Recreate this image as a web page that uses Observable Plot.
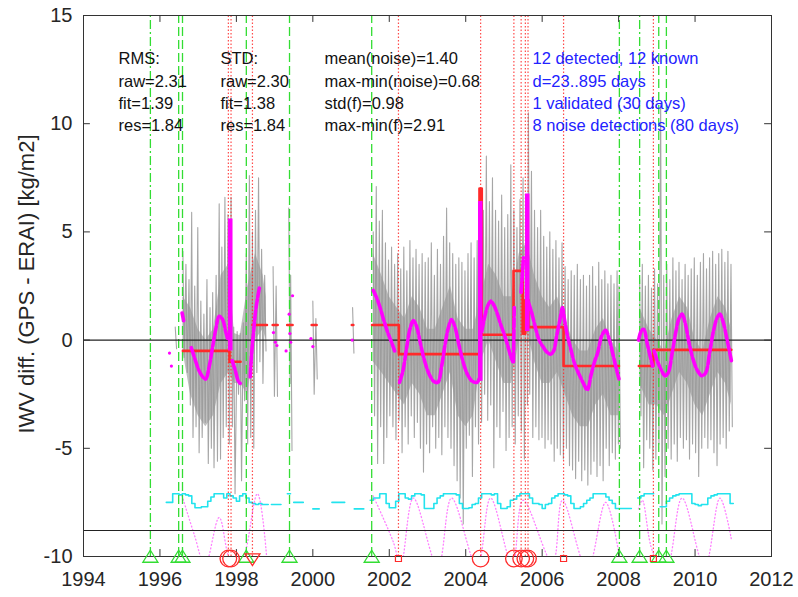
<!DOCTYPE html>
<html><head><meta charset="utf-8">
<script src="https://cdn.jsdelivr.net/npm/d3@7"></script>
<script src="https://cdn.jsdelivr.net/npm/@observablehq/plot@0.6"></script>
<style>body{margin:0;background:#fff} #chart{width:798px;height:597px}</style>
</head><body><div id="chart"></div>
<script>
// ---------- data ----------
const xTicks = [1994,1996,1998,2000,2002,2004,2006,2008,2010,2012];
const yTicks = [-10,-5,0,5,10,15];

// gray raw series: envelope per ~month (null = data gap)
const grayT = [1996.40,null,
 1996.60,1996.68,1996.76,1996.83,1996.91,1996.99,1997.07,1997.15,1997.23,1997.31,1997.38,1997.47,1997.55,1997.62,1997.70,1997.78,1997.86,1997.93,1998.02,1998.10,1998.18,1998.26,1998.34,1998.42,1998.50,1998.58,1998.66,1998.74,null,
 1998.96,1999.04,null,1999.37,1999.42,null,2000.00,2000.08,null,2001.04,null,
 2001.58,2001.66,2001.74,2001.82,2001.90,2001.98,2002.06,2002.14,2002.22,2002.30,2002.38,2002.46,2002.54,2002.62,2002.70,2002.78,2002.86,2002.94,
 2003.02,2003.10,2003.18,2003.26,2003.34,2003.42,2003.50,2003.58,2003.66,2003.74,2003.82,2003.90,2003.98,
 2004.06,2004.14,2004.22,2004.30,2004.38,2004.46,2004.54,2004.62,2004.70,2004.78,2004.86,2004.94,
 2005.02,2005.10,2005.18,2005.26,2005.34,2005.42,2005.50,2005.58,2005.64,2005.72,2005.80,2005.88,2005.96,
 2006.04,2006.12,2006.20,2006.28,2006.36,2006.44,2006.52,2006.60,2006.68,2006.76,2006.84,2006.92,
 2007.00,2007.08,2007.16,2007.24,2007.32,2007.40,2007.48,2007.56,2007.64,2007.72,2007.80,2007.88,2007.96,2008.01,null,
 2008.55,2008.62,2008.70,2008.78,2008.86,2008.94,2009.02,2009.10,2009.18,2009.26,2009.34,2009.42,2009.50,2009.58,2009.66,2009.74,2009.82,2009.90,2009.98,
 2010.06,2010.14,2010.22,2010.30,2010.38,2010.46,2010.54,2010.62,2010.70,2010.78,2010.86,2010.94];
const grayHi = [0.6,null,
 4.1,3.5,2.8,5.9,2.5,5.2,1.8,1.2,2.8,1.5,2.2,3.0,6.3,4.3,6.6,5.8,6.6,0.6,0.4,0.3,0.8,4.0,7.6,5.0,6.0,7.5,4.2,3.0,null,
 3.4,2.5,null,6.1,3.0,null,1.8,1.0,null,1.5,null,
 5.0,7.1,5.5,6.0,4.5,3.7,4.3,3.5,4.0,3.3,4.3,3.2,4.6,3.8,4.2,3.5,4.0,3.6,
 3.8,4.5,3.0,4.2,3.5,4.8,6.1,4.5,4.0,3.5,3.8,3.6,3.2,
 4.0,4.5,3.8,4.6,5.0,6.0,8.5,6.4,7.5,6.0,5.5,6.7,
 5.2,5.8,8.1,6.0,5.2,6.5,7.5,6.7,10.5,7.8,6.0,5.2,6.0,
 4.8,4.3,5.0,4.2,4.6,3.8,4.5,3.4,2.8,3.2,3.0,3.5,
 2.8,3.0,2.5,3.0,3.4,2.5,3.6,2.8,3.2,2.6,3.0,2.6,3.2,2.5,null,
 2.8,3.5,2.5,3.0,2.4,3.3,2.6,10.9,3.0,3.5,2.8,3.8,3.2,3.6,2.8,3.5,3.0,3.3,3.8,
 3.0,3.6,4.0,3.3,3.8,4.1,3.5,4.0,4.2,3.6,4.1,3.5];
const grayLo = [-0.4,null,
 -0.8,-1.5,-3.0,-4.5,-4.0,-5.2,-4.5,-3.8,-5.7,-5.0,-5.9,-5.6,-5.5,-4.5,-4.0,-4.8,-4.0,-7.1,-2.5,-6.5,-2.8,-4.8,-4.5,-5.0,-1.5,-1.0,-2.0,-0.5,null,
 -2.6,-2.6,null,-2.0,-5.1,null,-2.5,-1.8,null,-0.6,null,
 -3.5,-5.7,-4.0,-5.7,-4.5,-3.5,-4.0,-4.6,-3.7,-5.2,-4.0,-4.8,-3.5,-4.5,-3.8,-5.0,-6.1,-4.8,
 -5.2,-4.0,-5.0,-4.5,-5.3,-4.0,-4.5,-5.0,-5.8,-6.5,-7.3,-8.5,-5.0,
 -4.4,-6.3,-4.0,-4.8,-3.8,-2.5,-3.7,-3.0,-5.9,-4.0,-4.5,-3.3,
 -5.1,-4.5,-4.0,-4.8,-3.5,-4.2,-5.5,-3.0,-2.5,-4.5,-4.0,-4.6,-4.5,
 -5.0,-4.6,-4.8,-5.6,-5.0,-5.3,-5.5,-5.0,-5.8,-6.0,-6.4,-5.6,
 -6.5,-6.0,-6.7,-6.2,-5.6,-6.3,-5.8,-6.5,-5.0,-5.8,-5.2,-5.5,-4.8,-5.0,null,
 -3.5,-5.9,-4.6,-5.0,-6.0,-5.5,-4.8,-8.5,-6.3,-5.0,-5.5,-4.8,-5.6,-4.5,-5.0,-4.6,-5.5,-4.8,-5.2,
 -6.3,-5.0,-4.5,-5.0,-4.6,-5.2,-5.8,-4.8,-4.5,-5.0,-4.2,-4.0];

// dense core of the gray series (null = gap)
const coreT = [1996.6,1996.8,1997.0,1997.2,1997.4,1997.6,1997.8,1997.95,1998.1,1998.3,1998.5,1998.7,1998.78,null,
 2001.58,2001.8,2002.0,2002.2,2002.4,2002.6,2002.8,2003.0,2003.2,2003.4,2003.6,2003.8,2004.0,2004.2,2004.4,2004.6,2004.8,
 2005.0,2005.2,2005.4,2005.6,2005.8,2006.0,2006.2,2006.4,2006.6,2006.8,2007.0,2007.2,2007.4,2007.6,2007.8,2008.0,null,
 2008.55,2008.8,2009.0,2009.2,2009.4,2009.6,2009.8,2010.0,2010.2,2010.4,2010.6,2010.8,2010.95];
const coreHi = [2.0,1.5,0.5,0.0,0.5,3.0,3.5,0.3,0.2,2.5,4.0,3.0,2.0,null,
 4.0,3.0,2.0,1.5,1.0,2.0,1.5,0.5,0.5,1.5,2.5,1.0,0.5,0.5,2.0,3.5,3.0,
 2.0,2.0,4.0,4.5,3.0,2.0,1.5,2.0,1.0,0.0,-0.5,-0.5,0.5,1.0,0.0,-0.5,null,
 1.5,0.5,0.0,-0.5,1.0,2.0,1.5,0.0,-0.5,1.0,2.0,1.5,0.5];
const coreLo = [-0.5,-2.5,-3.5,-4.0,-3.5,-2.0,-1.5,-2.0,-2.0,-2.5,0.0,0.5,0.0,null,
 -1.0,-1.5,-2.0,-2.5,-3.0,-2.0,-2.5,-3.5,-3.5,-2.5,-1.5,-3.5,-4.0,-3.5,-1.0,0.0,-1.0,
 -2.0,-2.0,0.0,0.5,-1.0,-2.0,-2.0,-1.5,-2.5,-3.5,-4.0,-4.0,-3.0,-2.5,-3.5,-3.5,null,
 -2.0,-3.0,-3.0,-3.5,-2.5,-1.5,-2.0,-3.0,-3.5,-2.5,-1.5,-2.0,-3.0];

// cyan monthly step series, starting January 1996 (null = no value)
const cyanStart = 1996;
const cyanV = [
 null,null,-7.5,-7.5,-7.1,-7.1,-7.15,-7.1,-7.15,-7.2,-7.55,-7.75,      // 1996
 -7.75,-7.7,-7.7,-7.45,-7.25,-7.1,-7.1,-7.1,-7.3,-7.1,-7.2,-7.3,       // 1997
 -7.45,-7.2,-7.1,-7.3,-7.5,-7.55,-7.6,-7.55,-7.6,-7.6,null,-7.6,       // 1998
 -7.6,-7.6,null,null,-7.1,null,-7.5,-7.5,-7.5,null,null,null,          // 1999
 -7.8,-7.8,null,null,null,null,-7.5,-7.5,-7.5,-7.5,null,null,          // 2000
 null,-7.8,-7.8,-7.8,null,null,-7.4,-7.3,-7.3,-7.1,-7.1,-7.55,         // 2001
 -7.75,-7.75,-7.45,-7.1,-7.1,-7.3,-7.35,-7.2,-7.1,-7.1,-7.15,-7.78,   // 2002
 -7.78,-7.78,-7.55,-7.3,-7.2,-7.1,-7.1,-7.1,-7.1,-7.15,-7.55,-7.78,   // 2003
 -7.78,-7.75,-7.6,-7.55,-7.3,-7.1,-7.1,-7.1,-7.15,-7.1,-7.55,-7.78,   // 2004
 -7.78,-7.7,-7.4,-7.35,-7.2,-7.1,-7.1,-7.1,-7.3,-7.55,-7.55,-7.6,     // 2005
 -7.78,-7.6,-7.55,-7.3,-7.2,-7.1,-7.1,-7.15,-7.2,-7.55,-7.78,-7.78,   // 2006
 -7.7,-7.55,-7.4,-7.3,-7.1,-7.1,-7.1,-7.1,-7.25,-7.4,-7.55,-7.78,     // 2007
 -7.78,-7.78,-7.78,-7.78,null,null,-7.3,-7.2,-7.1,-7.1,-7.1,null,     // 2008
 null,-7.7,-7.7,-7.45,-7.3,-7.2,-7.15,-7.1,-7.1,-7.1,-7.1,-7.55,      // 2009
 -7.6,-7.65,-7.6,-7.6,-7.3,-7.2,-7.15,-7.1,-7.1,-7.1,-7.1,-7.55       // 2010
];

// pink dotted seasonal curve (null = break)
const pinkT = [1996.58,1996.9,1997.18,1997.55,1997.85,1998.1,1998.55,1998.8,null,
 2001.58,2002.1,2002.3,2002.63,2003.27,2003.63,2004.3,2004.65,2005.22,2005.5,2006.27,2006.53,2007.18,2007.66,2008.0,null,
 2008.52,2008.62,2008.9,2009.25,2009.66,2010.25,2010.65,2010.95];
const pinkV = [-7.2,-9.0,-10.4,-8.2,-10.2,-10.4,-7.1,-10.2,null,
 -7.2,-9.3,-10.4,-7.3,-10.5,-7.3,-10.5,-7.3,-10.4,-7.4,-10.3,-7.4,-10.6,-7.5,-9.8,null,
 -7.8,-7.4,-9.8,-10.5,-7.3,-10.5,-7.3,-9.2];

// magenta fit curve (null = break)
const magT = [1996.58,1996.62,null,
 1996.82,1996.92,1997.02,1997.12,1997.2,1997.28,1997.38,1997.46,1997.55,1997.64,1997.72,1997.78,null,
 1997.89,1997.97,1998.05,1998.10,null,
 1998.36,1998.40,1998.45,1998.50,1998.55,1998.60,null,
 2001.58,2001.66,2001.76,2001.86,2001.96,2002.06,2002.14,null,
 2002.27,2002.36,2002.45,2002.54,2002.63,2002.72,2002.82,2002.93,2003.05,2003.16,2003.27,2003.37,2003.46,2003.55,2003.63,2003.72,2003.82,2003.93,2004.05,2004.17,2004.30,2004.35,null,
 2004.42,2004.50,2004.58,2004.66,2004.74,2004.83,2004.91,2005.0,2005.09,2005.17,2005.23,null,
 2005.25,2005.27,null,2005.45,2005.48,2005.51,null,
 2005.63,2005.72,2005.82,2005.92,2006.02,2006.12,2006.22,2006.30,2006.38,2006.46,2006.53,2006.58,2006.65,2006.74,2006.85,2006.97,2007.08,2007.18,2007.28,2007.37,2007.45,2007.56,2007.66,2007.76,2007.85,2007.95,2008.01,null,
 2008.52,2008.60,2008.66,2008.74,2008.82,2008.89,null,
 2008.93,2009.02,2009.12,2009.22,2009.30,2009.40,2009.50,2009.58,2009.66,2009.74,2009.84,2009.95,2010.06,2010.18,2010.28,2010.38,2010.48,2010.57,2010.65,2010.74,2010.84,2010.95];
const magV = [1.25,0.9,null,
 -0.35,-0.9,-1.4,-1.7,-1.8,-1.3,-0.3,0.5,1.1,0.95,0.4,0.0,null,
 -0.95,-1.4,-1.9,-2.0,null,
 -1.7,-0.6,0.4,1.3,1.9,2.4,null,
 2.3,2.0,1.5,0.9,0.35,-0.1,-0.5,null,
 -1.95,-1.4,-0.4,0.5,0.9,0.6,-0.2,-1.0,-1.6,-1.9,-1.95,-1.2,-0.2,0.6,0.95,0.6,-0.2,-1.0,-1.6,-1.9,-1.95,-1.8,null,
 0.4,1.1,1.6,1.8,1.6,1.2,0.75,0.3,-0.2,-0.7,-1.0,null,
 -1.0,1.5,null,2.2,3.0,3.8,null,
 1.8,1.3,0.6,0.0,-0.3,-0.55,-0.65,-0.5,0.2,0.9,1.5,1.0,0.3,-0.35,-1.1,-1.6,-2.0,-2.3,-1.6,-1.0,-0.6,0.2,0.45,0.0,-0.65,-1.4,-1.8,null,
 0.0,0.45,0.5,-0.1,-0.7,-1.2,null,
 -0.5,-1.0,-1.4,-1.65,-1.5,-0.6,0.4,1.0,1.2,0.8,-0.1,-0.9,-1.4,-1.65,-1.5,-0.6,0.4,1.0,1.2,0.8,0.0,-0.95];
// isolated magenta points
const magDotT = [1996.25,1996.30,1998.97,1999.02,1999.06,1999.30,1999.38,1999.40,1999.42,1999.47,1999.95,2000.0,2001.03];
const magDotV = [-0.6,-1.2,0.35,-0.1,-0.25,-0.5,1.2,0.3,-0.1,2.05,0.07,-0.3,0.0];
// magenta spikes
const spikeT = [1997.84,2004.38,2005.61];
const spikeLo = [-0.5,-1.9,0.4];
const spikeHi = [5.6,6.4,6.75];

// red offset steps
const redX1 = [1996.60,1997.82,null,1998.42,null,1998.95,null,1999.33,null,1999.97,null,2001.02,null,
 2001.55,2002.25,2004.36,2004.42,2005.25,2005.49,2005.56,2005.64,2006.56,null,2008.53,2008.91];
const redX2 = [1997.82,1998.11,null,1998.80,null,1999.08,null,1999.47,null,2000.10,null,2001.06,null,
 2002.25,2004.36,2004.42,2005.25,2005.49,2005.56,2005.64,2006.56,2008.01,null,2008.91,2010.95];
const redV = [-0.5,-1.0,null,0.7,null,0.7,null,0.7,null,0.7,null,0.7,null,
 0.7,-0.65,7.0,0.25,3.2,0.3,1.85,0.6,-1.2,null,-1.2,-0.45];

// known (green) and detected (red) change points
const greenT = [1995.75,1996.49,1996.59,1998.26,1999.39,2001.54,2008.02,2008.55,2009.05,2009.25];
const greenDash = ["dashdot","dash","dash","dash","dash","dash","dashdot","dashdot","dash","dash"];
const redLineT = [1997.79,1997.86,1998.42,2002.24,2004.39,2005.26,2005.45,2005.56,2005.63,2006.56,2008.91];
const circleT = [1997.79,1997.86,2004.39,2005.26,2005.45,2005.56,2005.63];
const squareT = [2002.24,2006.56,2008.91];
const triDownT = [1998.42];

const refLines = [0,-8.8];

const col1 = ["RMS:","raw=2.31","fit=1.39","res=1.84"];
const col2 = ["STD:","raw=2.30","fit=1.38","res=1.84"];
const col3 = ["mean(noise)=1.40","max-min(noise)=0.68","std(f)=0.98","max-min(f)=2.91"];
const col4 = ["12 detected, 12 known","d=23..895 days","1 validated (30 days)","8 noise detections (80 days)"];
const yLabel = "IWV diff. (GPS - ERAI) [kg/m2]";

// ---------- build tables ----------
const grayPts = [];
grayT.forEach((t,i) => {
  if (t == null) grayPts.push({t:NaN, v:NaN});
  else { grayPts.push({t, v:grayHi[i]}); grayPts.push({t: t + 0.035, v:grayLo[i]}); }
});
const core = coreT.map((t,i) => ({t: t ?? NaN, hi: coreHi[i] ?? NaN, lo: coreLo[i] ?? NaN}));
const cyanPts = [];
cyanV.forEach((v,i) => {
  const t = cyanStart + i/12;
  if (v == null) cyanPts.push({t:NaN, v:NaN});
  else { cyanPts.push({t, v}); cyanPts.push({t: t + 1/12, v}); }
});
const pinkPts = pinkT.map((t,i) => ({t: t ?? NaN, v: pinkV[i] ?? NaN}));
const magPts = magT.map((t,i) => ({t: t ?? NaN, v: magV[i] ?? NaN}));
const magDots = magDotT.map((t,i) => ({t, v: magDotV[i]}));
const spikes = spikeT.map((t,i) => ({t, lo: spikeLo[i], hi: spikeHi[i]}));
const redPts = [];
redX1.forEach((x1,i) => {
  if (x1 == null) redPts.push({t:NaN, v:NaN});
  else { redPts.push({t:x1, v:redV[i]}); redPts.push({t:redX2[i], v:redV[i]}); }
});
const greens = greenT.map((t,i) => ({t, dash: greenDash[i]}));

const triUp = {draw(c, size){ const r = Math.sqrt(size/Math.PI);
  c.moveTo(0,-0.78*r); c.lineTo(0.94*r,0.72*r); c.lineTo(-0.94*r,0.72*r); c.closePath(); }};
const triDown = {draw(c, size){ const r = Math.sqrt(size/Math.PI);
  c.moveTo(-0.94*r,-0.7*r); c.lineTo(0.94*r,-0.7*r); c.lineTo(0,0.75*r); c.closePath(); }};
const sq = {draw(c, size){ const r = Math.sqrt(size/Math.PI); c.rect(-r,-r,2*r,2*r); }};

const GREEN = "#33dd33", RED = "#ff2a2a", MAG = "#ff00ff", CYAN = "#22e3ee";
const txt = {frameAnchor:"top-left", lineAnchor:"top", textAnchor:"start", fontSize:16.5, lineHeight:1.35};

const chart = Plot.plot({
  width: 798, height: 597,
  marginLeft: 83, marginRight: 27, marginTop: 15, marginBottom: 41,
  x: {domain: [1994, 2012]},
  y: {domain: [-10, 15]},
  style: {fontFamily: "'Liberation Sans', Arial, sans-serif", background: "white", color: "#262626", overflow: "visible"},
  marks: [
    Plot.areaY(core, {x:"t", y1:"lo", y2:"hi", fill:"#8a8a8a", fillOpacity:0.55}),
    Plot.line(grayPts, {x:"t", y:"v", stroke:"#969696", strokeWidth:1.1, strokeOpacity:0.85}),
    Plot.line(cyanPts, {x:"t", y:"v", stroke:CYAN, strokeWidth:1.6}),
    Plot.line(pinkPts, {x:"t", y:"v", curve:"catmull-rom", stroke:"#ff55ff", strokeWidth:1.3, strokeDasharray:"1,2.5", strokeOpacity:0.75, clip:true}),
    Plot.ruleX(greens.filter(d => d.dash === "dash"), {x:"t", y1:-10, y2:15, stroke:GREEN, strokeWidth:1.3, strokeDasharray:"9,4"}),
    Plot.ruleX(greens.filter(d => d.dash === "dashdot"), {x:"t", y1:-10, y2:15, stroke:GREEN, strokeWidth:1.3, strokeDasharray:"9,3,2,3"}),
    Plot.ruleX(redLineT, {x:d=>d, y1:-10, y2:15, stroke:RED, strokeWidth:1.2, strokeDasharray:"1.5,2", strokeOpacity:0.85}),
    Plot.ruleY(refLines, {y:d=>d, stroke:"#222", strokeWidth:1.1}),
    Plot.line(redPts, {x:"t", y:"v", stroke:RED, strokeWidth:2.6}),
    Plot.ruleX(spikes, {x:"t", y1:"lo", y2:"hi", stroke:MAG, strokeWidth:4.5}),
    Plot.line(magPts, {x:"t", y:"v", curve:"catmull-rom", stroke:MAG, strokeWidth:3.6, strokeDasharray:"9,2.5"}),
    Plot.dot(magDots, {x:"t", y:"v", r:1.6, fill:MAG}),
    Plot.frame({stroke:"#333", strokeWidth:1}),
    // inward ticks
    Plot.ruleX(xTicks, {x:d=>d, y1:-10, y2:-9.68, stroke:"#333"}),
    Plot.ruleX(xTicks, {x:d=>d, y1:15, y2:14.68, stroke:"#333"}),
    Plot.ruleY(yTicks, {y:d=>d, x1:1994, x2:1994.18, stroke:"#333"}),
    Plot.ruleY(yTicks, {y:d=>d, x1:2012, x2:2011.82, stroke:"#333"}),
    Plot.axisX({ticks:xTicks, tickFormat:d => String(d), tickSize:0, tickPadding:15, fontSize:20, label:null}),
    Plot.axisY({ticks:yTicks, tickFormat:d => String(d), tickSize:0, tickPadding:11, fontSize:20, label:null}),
    // markers on the bottom axis
    Plot.dot(greenT, {x:d=>d, y:-10, symbol:triUp, r:8, stroke:GREEN, strokeWidth:1.3, fill:"none"}),
    Plot.dot(circleT, {x:d=>d, y:-10, dy:2, r:8.3, stroke:RED, strokeWidth:1.3, fill:"none"}),
    Plot.dot(squareT, {x:d=>d, y:-10, dy:2, symbol:sq, r:3, stroke:RED, strokeWidth:1.2, fill:"none"}),
    Plot.dot(triDownT, {x:d=>d, y:-10, dy:3, symbol:triDown, r:8, stroke:RED, strokeWidth:1.3, fill:"none"}),
    // annotation text
    Plot.text([col1.join("\n")], {...txt, text:d=>d, dx:35, dy:33, fill:"#111"}),
    Plot.text([col2.join("\n")], {...txt, text:d=>d, dx:137, dy:33, fill:"#111"}),
    Plot.text([col3.join("\n")], {...txt, text:d=>d, dx:241, dy:33, fill:"#111"}),
    Plot.text([col4.join("\n")], {...txt, text:d=>d, dx:449, dy:33, fill:"#2222ff"}),
    Plot.text([yLabel], {text:d=>d, frameAnchor:"left", dx:-57, dy:-2, rotate:-90, fontSize:22, textAnchor:"middle", lineAnchor:"middle", fill:"#262626"})
  ]
});
document.getElementById("chart").appendChild(chart);
</script></body></html>
